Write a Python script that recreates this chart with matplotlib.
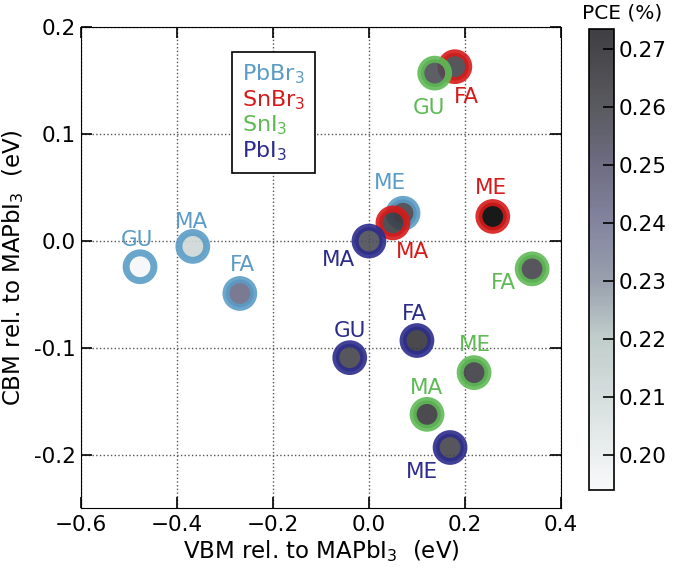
import numpy as np
import matplotlib
matplotlib.use("Agg")
import matplotlib.pyplot as plt
from matplotlib.colors import LinearSegmentedColormap

plt.rcParams['mathtext.default'] = 'regular'
plt.rcParams['axes.unicode_minus'] = False

# data: VBM / CBM relative to MAPbI3 (eV) and PCE for each cation / B-X combination
groups = ['PbBr$_3$', 'SnBr$_3$', 'SnI$_3$', 'PbI$_3$']
group_colors = ['#5b9cc6', '#d71a1a', '#5fba55', '#2c2c8c']

cations = [
    ['GU', 'MA', 'FA', 'ME'],
    ['ME', 'MA', 'FA'],
    ['GU', 'FA', 'ME', 'MA'],
    ['MA', 'GU', 'FA', 'ME'],
]
vbm = [
    [-0.477, -0.367, -0.269, 0.071],
    [0.258, 0.050, 0.179],
    [0.137, 0.340, 0.219, 0.121],
    [0.000, -0.040, 0.100, 0.169],
]
cbm = [
    [-0.024, -0.005, -0.049, 0.026],
    [0.023, 0.017, 0.163],
    [0.157, -0.026, -0.123, -0.162],
    [0.000, -0.109, -0.093, -0.193],
]
pce = [
    [0.195, 0.212, 0.244, 0.262],
    [0.285, 0.265, 0.262],
    [0.258, 0.262, 0.265, 0.267],
    [0.258, 0.262, 0.268, 0.262],
]
xticks = [-0.6, -0.4, -0.2, 0.0, 0.2, 0.4]
yticks = [-0.2, -0.1, 0.0, 0.1, 0.2]
cticks = [0.20, 0.21, 0.22, 0.23, 0.24, 0.25, 0.26, 0.27]

# label offsets in pixels (dx, dy) from the marker centre
offsets = [
    [(-3, 27), (-1, 24), (3, 28), (-13, 30)],
    [(-2, 28), (20, -29), (12, -30)],
    [(-6, -35), (-29, -14), (1, 28), (-1, 26)],
    [(-30, -19), (0, 27), (-3, 27), (-28, -24)],
]

cmap = LinearSegmentedColormap.from_list('pce', [
    (0.0, '#f8f9fa'),
    (0.33, '#b9c8c5'),
    (0.45, '#8f97a5'),
    (0.58, '#767794'),
    (0.70, '#5f5e76'),
    (0.83, '#48484f'),
    (1.0, '#2a2a2e'),
])
cmap.set_over('black')
vmin, vmax = 0.194, 0.2735

fig = plt.figure(figsize=(6.75, 5.71), dpi=100)
ax = fig.add_axes([0.12, 0.1095, 0.711, 0.843])
cax = fig.add_axes([0.873, 0.142, 0.036, 0.807])

for g in range(len(groups)):
    sc = ax.scatter(vbm[g], cbm[g], c=pce[g], cmap=cmap, vmin=vmin, vmax=vmax,
                    s=400, edgecolors=group_colors[g], linewidths=5, alpha=0.9, zorder=3)
    for i, name in enumerate(cations[g]):
        ax.annotate(name, (vbm[g][i], cbm[g][i]), xytext=offsets[g][i],
                    textcoords='offset pixels', ha='center', va='center',
                    color=group_colors[g], fontsize=15.5, zorder=4)

ax.set_xlim(-0.6, 0.4)
ax.set_ylim(-0.25, 0.2)
ax.set_xticks(xticks)
ax.set_yticks(yticks)
ax.set_xticklabels([('%.1f' % v).replace('-', '\u2212') for v in xticks], fontsize=15.5)
ax.set_yticklabels(['%.1f' % v for v in yticks], fontsize=15.5)
ax.grid(True, linestyle=':', color='#555555', linewidth=1)
ax.tick_params(direction='in', top=True, right=True, length=8, width=1.2)
ax.tick_params(axis='x', pad=5)
ax.set_xlabel('VBM rel. to MAPbI$_3$  (eV)', fontsize=16.5, labelpad=2)
ax.set_ylabel('CBM rel. to MAPbI$_3$  (eV)', fontsize=16.5, labelpad=6)

# coloured text legend
handles = [plt.Line2D([], [], linestyle='none') for _ in groups]
leg = ax.legend(handles, groups, loc='upper left', bbox_to_anchor=(0.3146, 0.948),
                handlelength=0, handletextpad=0, fontsize=16, labelcolor=group_colors,
                fancybox=False, edgecolor='black', framealpha=1, labelspacing=0.1,
                borderpad=0.45, borderaxespad=0)
leg.get_frame().set_linewidth(1.2)

cb = fig.colorbar(sc, cax=cax)
cb.set_ticks(cticks)
cb.ax.tick_params(direction='in', length=8, width=1.2, labelsize=15.5)
cb.outline.set_linewidth(1.2)
fig.text(0.921, 0.977, 'PCE (%)', ha='center', va='center', fontsize=14.5)

fig.savefig('out.png', dpi=100)
